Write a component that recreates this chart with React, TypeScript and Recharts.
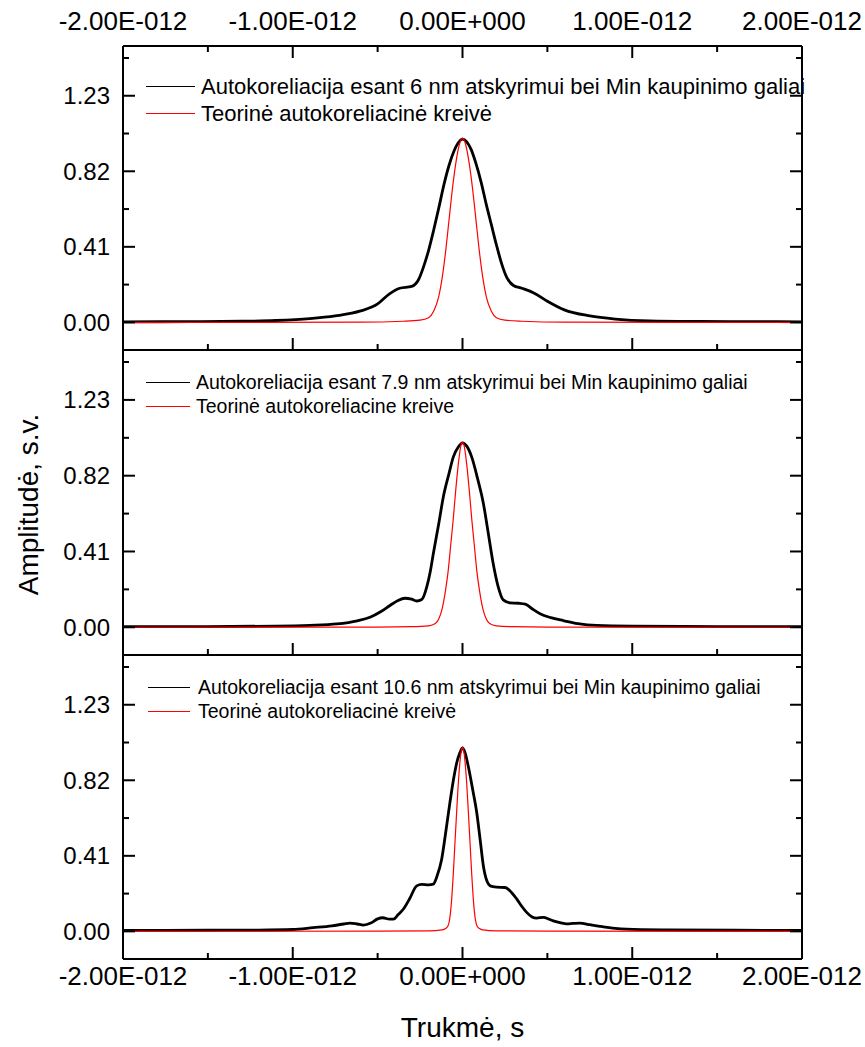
import React from 'react'
import { LineChart, Line, XAxis, YAxis, Legend } from 'recharts'

const FONT = '"Liberation Sans", Arial, Helvetica, sans-serif'

// time axis in ps (labels shown as E-012 seconds)
const xTicks = [-2, -1.5, -1, -0.5, 0, 0.5, 1, 1.5, 2]
const xMajor = [-2, -1, 0, 1, 2]
const yTicks = [0, 0.205, 0.41, 0.615, 0.82, 1.025, 1.23, 1.435]
const yMajor = [0, 0.41, 0.82, 1.23]

// panel 1 – 6 nm
const p1BlackT = [-2, -1.6, -1.3, -1.1, -0.9, -0.75, -0.6, -0.5, -0.43, -0.37, -0.3, -0.26, -0.23, -0.2, -0.17, -0.14, -0.11, -0.08, -0.05, -0.025, 0, 0.025, 0.05, 0.08, 0.11, 0.14, 0.17, 0.2, 0.23, 0.26, 0.3, 0.35, 0.42, 0.5, 0.6, 0.75, 0.9, 1.1, 1.4, 1.7, 2]
const p1BlackA = [0.003, 0.004, 0.006, 0.01, 0.02, 0.035, 0.062, 0.1, 0.155, 0.185, 0.195, 0.23, 0.3, 0.39, 0.5, 0.62, 0.745, 0.85, 0.93, 0.975, 0.995, 0.98, 0.94, 0.86, 0.76, 0.64, 0.53, 0.42, 0.32, 0.245, 0.2, 0.185, 0.16, 0.115, 0.068, 0.035, 0.018, 0.008, 0.005, 0.004, 0.003]
const p1RedT = [-2, -0.6, -0.35, -0.25, -0.2, -0.17, -0.14, -0.12, -0.1, -0.08, -0.06, -0.04, -0.02, 0, 0.02, 0.04, 0.06, 0.08, 0.1, 0.12, 0.14, 0.17, 0.2, 0.25, 0.35, 0.6, 2]
const p1RedA = [0, 0.001, 0.006, 0.012, 0.025, 0.06, 0.14, 0.24, 0.38, 0.55, 0.72, 0.86, 0.96, 1.0, 0.96, 0.86, 0.72, 0.55, 0.38, 0.24, 0.14, 0.06, 0.025, 0.012, 0.006, 0.001, 0]

// panel 2 – 7.9 nm
const p2BlackT = [-2, -1.5, -1.1, -0.9, -0.74, -0.62, -0.545, -0.48, -0.427, -0.38, -0.34, -0.3, -0.27, -0.24, -0.21, -0.19, -0.172, -0.14, -0.113, -0.08, -0.054, -0.025, 0, 0.025, 0.054, 0.09, 0.123, 0.15, 0.181, 0.21, 0.24, 0.28, 0.33, 0.37, 0.41, 0.457, 0.52, 0.594, 0.68, 0.79, 1.0, 1.5, 2]
const p2BlackA = [0.003, 0.004, 0.006, 0.01, 0.018, 0.035, 0.054, 0.085, 0.118, 0.145, 0.157, 0.152, 0.142, 0.15, 0.22, 0.3, 0.398, 0.56, 0.705, 0.83, 0.922, 0.975, 0.998, 0.98, 0.922, 0.8, 0.67, 0.52, 0.344, 0.22, 0.148, 0.132, 0.13, 0.125, 0.1, 0.073, 0.052, 0.036, 0.02, 0.01, 0.006, 0.004, 0.003]
const p2RedT = [-2, -0.5, -0.3, -0.2, -0.16, -0.14, -0.12, -0.1, -0.085, -0.07, -0.055, -0.04, -0.025, -0.01, 0, 0.01, 0.025, 0.04, 0.055, 0.07, 0.085, 0.1, 0.12, 0.14, 0.16, 0.2, 0.3, 0.5, 2]
const p2RedA = [0, 0.001, 0.003, 0.008, 0.02, 0.045, 0.1, 0.2, 0.3, 0.44, 0.58, 0.74, 0.88, 0.98, 1.0, 0.98, 0.88, 0.74, 0.58, 0.44, 0.3, 0.2, 0.1, 0.045, 0.02, 0.008, 0.003, 0.001, 0]

// panel 3 – 10.6 nm
const p3BlackT = [-2, -1.5, -1.2, -1.0, -0.88, -0.77, -0.7, -0.663, -0.62, -0.584, -0.54, -0.5, -0.47, -0.43, -0.407, -0.38, -0.349, -0.31, -0.27, -0.24, -0.2, -0.172, -0.15, -0.123, -0.1, -0.074, -0.05, -0.034, -0.015, 0, 0.015, 0.034, 0.06, 0.084, 0.105, 0.123, 0.145, 0.163, 0.2, 0.251, 0.29, 0.32, 0.35, 0.378, 0.41, 0.437, 0.476, 0.51, 0.535, 0.58, 0.614, 0.65, 0.692, 0.75, 0.81, 0.9, 0.967, 1.2, 1.6, 2]
const p3BlackA = [0.005, 0.006, 0.007, 0.01, 0.02, 0.03, 0.04, 0.045, 0.04, 0.034, 0.045, 0.068, 0.074, 0.066, 0.066, 0.09, 0.12, 0.18, 0.247, 0.255, 0.252, 0.256, 0.3, 0.39, 0.53, 0.7, 0.84, 0.915, 0.97, 0.996, 0.97, 0.896, 0.77, 0.644, 0.49, 0.355, 0.27, 0.247, 0.24, 0.238, 0.21, 0.175, 0.135, 0.103, 0.078, 0.072, 0.076, 0.066, 0.057, 0.046, 0.041, 0.043, 0.045, 0.036, 0.027, 0.016, 0.012, 0.008, 0.006, 0.005]
const p3RedT = [-2, -0.5, -0.2, -0.12, -0.1, -0.085, -0.075, -0.065, -0.055, -0.045, -0.035, -0.025, -0.015, -0.005, 0, 0.005, 0.015, 0.025, 0.035, 0.045, 0.055, 0.065, 0.075, 0.085, 0.1, 0.12, 0.2, 0.5, 2]
const p3RedA = [0, 0.001, 0.003, 0.008, 0.015, 0.03, 0.07, 0.16, 0.3, 0.47, 0.64, 0.8, 0.92, 0.99, 1.0, 0.99, 0.92, 0.8, 0.64, 0.47, 0.3, 0.16, 0.07, 0.03, 0.015, 0.008, 0.003, 0.001, 0]

const toPoints = (t: number[], a: number[]) => t.map((x, i) => ({ t: x, a: a[i] }))

const fmtX = (v: number) => (v === 0 ? '0.00E+000' : `${v.toFixed(2)}E-012`)

function BottomTick(props: any) {
  const { x, y, payload, showLabel } = props
  const major = xMajor.includes(payload.value)
  return (
    <g>
      <line x1={x} y1={y} x2={x} y2={y - (major ? 12 : 6)} stroke="#000" strokeWidth={2} />
      {showLabel && major && (
        <text x={x} y={y + 26} textAnchor="middle" fontSize={26} fontFamily={FONT} fill="#000">
          {fmtX(payload.value)}
        </text>
      )}
    </g>
  )
}

function TopTick(props: any) {
  const { x, y, payload } = props
  const major = xMajor.includes(payload.value)
  return (
    <g>
      <line x1={x} y1={y} x2={x} y2={y + (major ? 12 : 6)} stroke="#000" strokeWidth={2} />
      {major && (
        <text x={x} y={y - 16} textAnchor="middle" fontSize={26} fontFamily={FONT} fill="#000">
          {fmtX(payload.value)}
        </text>
      )}
    </g>
  )
}

function LeftTick(props: any) {
  const { x, y, payload } = props
  const major = yMajor.includes(payload.value)
  return (
    <g>
      <line x1={x} y1={y} x2={x + (major ? 12 : 6)} y2={y} stroke="#000" strokeWidth={2} />
      {major && (
        <text x={x - 13} y={y + 8.5} textAnchor="end" fontSize={24} fontFamily={FONT} fill="#000">
          {payload.value.toFixed(2)}
        </text>
      )}
    </g>
  )
}

function RightTick(props: any) {
  const { x, y, payload } = props
  const major = yMajor.includes(payload.value)
  return <line x1={x} y1={y} x2={x - (major ? 12 : 6)} y2={y} stroke="#000" strokeWidth={2} />
}

function YTitle(props: any) {
  const vb = props.viewBox || { x: 0, y: 0, width: 123, height: 305 }
  const cx = 28
  const cy = vb.y + vb.height / 2 + 2
  return (
    <text x={cx} y={cy} transform={`rotate(-90 ${cx} ${cy})`} textAnchor="middle" dominantBaseline="central" fontSize={28} fontFamily={FONT} fill="#000">
      Amplitudė, s.v.
    </text>
  )
}

function XTitle(props: any) {
  const vb = props.viewBox || { x: 123, y: 0, width: 679, height: 88 }
  return (
    <text x={vb.x + vb.width / 2} y={vb.y + 78} textAnchor="middle" fontSize={28} fontFamily={FONT} fill="#000">
      Trukmė, s
    </text>
  )
}

type LegendCfg = { top: number; left: number; lineW: number; gap: number; fontSize: number; rowH: number }

function makeLegend(cfg: LegendCfg, items: { name: string; color: string }[]) {
  return () => (
    <div style={{ fontFamily: FONT, fontSize: cfg.fontSize, color: '#000', whiteSpace: 'nowrap' }}>
      {items.map((it) => (
        <div key={it.name} style={{ display: 'flex', alignItems: 'center', height: cfg.rowH }}>
          <span style={{ display: 'inline-block', width: cfg.lineW, borderTop: `1px solid ${it.color}`, marginRight: cfg.gap }} />
          <span>{it.name}</span>
        </div>
      ))}
    </div>
  )
}

type PanelProps = {
  top: number
  height: number
  topAxisH: number
  bottomAxisH: number
  black: { t: number; a: number }[]
  red: { t: number; a: number }[]
  blackName: string
  redName: string
  legend: LegendCfg
  topLabels?: boolean
  bottomLabels?: boolean
  yTitle?: boolean
  xTitle?: boolean
}

function Panel(p: PanelProps) {
  const items = [
    { name: p.blackName, color: '#000' },
    { name: p.redName, color: '#ff0000' },
  ]
  return (
    <div style={{ position: 'absolute', left: 0, top: p.top, width: 865, height: p.height }}>
      <LineChart width={865} height={p.height} margin={{ top: 0, right: 0, bottom: 0, left: 0 }}>
        <XAxis
          xAxisId="t"
          orientation="top"
          type="number"
          dataKey="t"
          domain={[-2, 2]}
          allowDataOverflow
          ticks={xTicks}
          interval={0}
          height={p.topAxisH}
          tickSize={0}
          tickMargin={0}
          tickLine={false}
          axisLine={{ stroke: '#000', strokeWidth: 2 }}
          tick={p.topLabels ? (tp: any) => <TopTick {...tp} /> : () => <g />}
        />
        <XAxis
          xAxisId="b"
          orientation="bottom"
          type="number"
          dataKey="t"
          domain={[-2, 2]}
          allowDataOverflow
          ticks={xTicks}
          interval={0}
          height={p.bottomAxisH}
          tickSize={0}
          tickMargin={0}
          tickLine={false}
          axisLine={{ stroke: '#000', strokeWidth: 2 }}
          tick={(tp: any) => <BottomTick {...tp} showLabel={p.bottomLabels} />}
          label={p.xTitle ? <XTitle /> : undefined}
        />
        <YAxis
          yAxisId="l"
          type="number"
          domain={[-0.15, 1.5]}
          ticks={yTicks}
          interval={0}
          width={123}
          tickSize={0}
          tickMargin={0}
          tickLine={false}
          allowDataOverflow
          axisLine={{ stroke: '#000', strokeWidth: 2 }}
          tick={(tp: any) => <LeftTick {...tp} />}
          label={p.yTitle ? <YTitle /> : undefined}
        />
        <YAxis
          yAxisId="r"
          orientation="right"
          type="number"
          domain={[-0.15, 1.5]}
          ticks={yTicks}
          interval={0}
          width={63}
          tickSize={0}
          tickMargin={0}
          tickLine={false}
          allowDataOverflow
          axisLine={{ stroke: '#000', strokeWidth: 2 }}
          tick={(tp: any) => <RightTick {...tp} />}
        />
        <Legend
          layout="vertical"
          align="center"
          verticalAlign="middle"
          wrapperStyle={{ left: p.legend.left, top: p.legend.top, width: 'auto' }}
          content={makeLegend(p.legend, items)}
        />
        <Line
          xAxisId="b"
          yAxisId="l"
          data={p.black}
          dataKey="a"
          name={p.blackName}
          type="monotone"
          stroke="#000"
          strokeWidth={2.8}
          dot={false}
          isAnimationActive={false}
        />
        <Line
          xAxisId="t"
          yAxisId="l"
          data={p.red}
          dataKey="a"
          name={p.redName}
          type="monotone"
          stroke="#ff0000"
          strokeWidth={1.2}
          dot={false}
          isAnimationActive={false}
        />
      </LineChart>
    </div>
  )
}

export default function App() {
  return (
    <div style={{ position: 'absolute', left: 0, top: 0, width: 865, height: 1047, background: '#fff' }}>
      <Panel
        top={0}
        height={352}
        topAxisH={46}
        bottomAxisH={2}
        black={toPoints(p1BlackT, p1BlackA)}
        red={toPoints(p1RedT, p1RedA)}
        blackName="Autokoreliacija esant 6 nm atskyrimui bei Min kaupinimo galiai"
        redName="Teorinė autokoreliacinė kreivė"
        legend={{ top: 73, left: 146, lineW: 49, gap: 6, fontSize: 22, rowH: 27 }}
        topLabels
      />
      <Panel
        top={349}
        height={308}
        topAxisH={1}
        bottomAxisH={2}
        black={toPoints(p2BlackT, p2BlackA)}
        red={toPoints(p2RedT, p2RedA)}
        blackName="Autokoreliacija esant 7.9 nm atskyrimui bei Min kaupinimo galiai"
        redName="Teorinė autokoreliacine kreive"
        legend={{ top: 21, left: 146, lineW: 44, gap: 6, fontSize: 19.5, rowH: 24 }}
        yTitle
      />
      <Panel
        top={654}
        height={393}
        topAxisH={1}
        bottomAxisH={88}
        black={toPoints(p3BlackT, p3BlackA)}
        red={toPoints(p3RedT, p3RedA)}
        blackName="Autokoreliacija esant 10.6 nm atskyrimui bei Min kaupinimo galiai"
        redName="Teorinė autokoreliacinė kreivė"
        legend={{ top: 22, left: 148, lineW: 42, gap: 8, fontSize: 19.5, rowH: 23.5 }}
        bottomLabels
        xTitle
      />
    </div>
  )
}
